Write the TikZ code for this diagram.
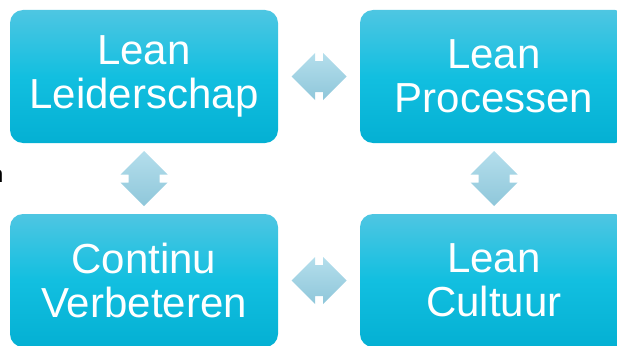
\documentclass[tikz,border=0pt]{standalone}
\usepackage{fontspec}
\setmainfont{Liberation Sans}
\usetikzlibrary{positioning, calc}

\definecolor{boxtop}{RGB}{78,198,226}
\definecolor{boxmid}{RGB}{18,191,224}
\definecolor{boxbot}{RGB}{4,176,211}
\definecolor{arrtop}{RGB}{180,222,236}
\definecolor{arrbot}{RGB}{143,199,218}

\tikzset{
  leanbox/.style={rectangle, rounded corners=13pt, minimum width=268pt, minimum height=133pt,
    inner sep=0pt, align=center, text=white, top color=boxtop, bottom color=boxbot,
    middle color=boxmid, font=\fontsize{42}{44}\selectfont},
  linkfill/.style={top color=arrtop, bottom color=arrbot, draw=none},
  hlink/.pic={\path[linkfill] (-27.5,0) -- (-4,-23.5) -- (-4,-15.5) -- (4,-15.5) -- (4,-23.5)
    -- (27.5,0) -- (4,23.5) -- (4,15.5) -- (-4,15.5) -- (-4,23.5) -- cycle;},
  vlink/.pic={\path[linkfill] (0,-27.5) -- (-23.5,-4) -- (-15.5,-4) -- (-15.5,4) -- (-23.5,4)
    -- (0,27.5) -- (23.5,4) -- (15.5,4) -- (15.5,-4) -- (23.5,-4) -- cycle;},
}

\begin{document}
\begin{tikzpicture}[x=1pt, y=-1pt]
\useasboundingbox (0,0) rectangle (617,345);
\clip (0,0) rectangle (617,345);

% Boxes
\node[leanbox] (lead) at (144,76.5) {Lean\\Leiderschap};
\node[leanbox] (proc) at (494,76.5) {Lean\\Processen};
\node[leanbox] (cont) at (144,280.5) {Continu\\Verbeteren};
\node[leanbox] (cult) at (494,280.5) {Lean\\Cultuur};

% Arrows between the boxes
\coordinate (lp) at ($(lead)!0.5!(proc)$);
\coordinate (cc) at ($(cont)!0.5!(cult)$);
\coordinate (lc) at ($(lead)!0.5!(cont)$);
\coordinate (pc) at ($(proc)!0.5!(cult)$);
\pic at (lp) {hlink};
\pic at (cc) {hlink};
\pic at (lc) {vlink};
\pic at (pc) {vlink};

% Cut-off text at the left edge
\node[anchor=base east, inner sep=0pt, font=\fontsize{23}{23}\selectfont] (frag) at (3.5,182) {n};
\end{tikzpicture}
\end{document}
